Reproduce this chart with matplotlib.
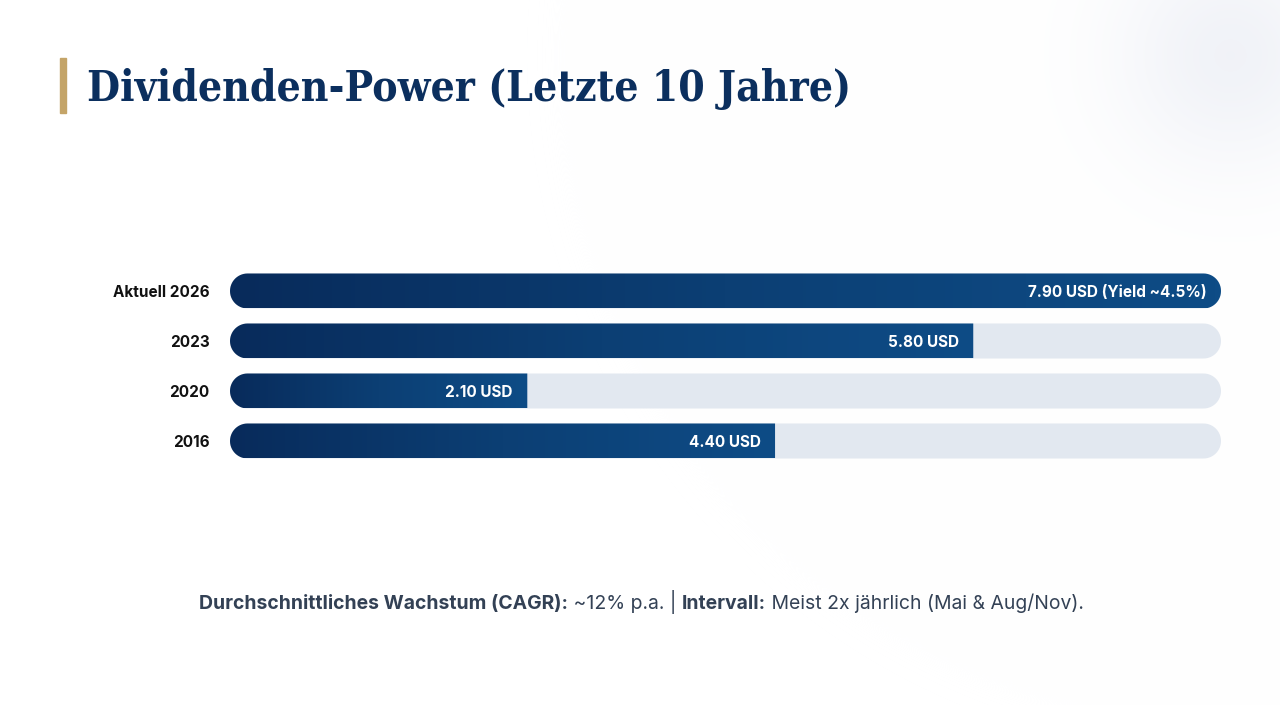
import numpy as np
import matplotlib
matplotlib.use("Agg")
import matplotlib.pyplot as plt
from matplotlib.path import Path
from matplotlib.patches import PathPatch
from matplotlib.colors import LinearSegmentedColormap

# ---------------- data ----------------
categories = ["Aktuell 2026", "2023", "2020", "2016"]
bar_pct = [100, 75, 30, 55]          # bar length, % of track
value_labels = ["7.90 USD (Yield ~4.5%)", "5.80 USD", "2.10 USD", "4.40 USD"]
title = "Dividenden-Power (Letzte 10 Jahre)"
footer_parts = [
    ("Durchschnittliches Wachstum (CAGR):", "bold"),
    (" ~12% p.a. | ", "normal"),
    ("Intervall:", "bold"),
    (" Meist 2x jährlich (Mai & Aug/Nov).", "normal"),
]

W, H, DPI = 1280, 705, 100
fig = plt.figure(figsize=(W / DPI, H / DPI), dpi=DPI)
fig.patch.set_facecolor("white")

# background radial glow (top right)
bg = fig.add_axes([0, 0, 1, 1])
bg.set_axis_off()
yy, xx = np.mgrid[0:H, 0:W]
d = np.hypot(xx - 1230, yy - 55)
glow = np.exp(-(d / 115.0) ** 2)
base = np.array([1.0, 1.0, 1.0])
tint = np.array([0.945, 0.952, 0.972])
img = base[None, None, :] * (1 - glow[..., None]) + tint[None, None, :] * glow[..., None]
bg.imshow(img, extent=[0, W, H, 0], aspect="auto", zorder=0)
bg.set_xlim(0, W)
bg.set_ylim(H, 0)

# gold accent + title
bg.add_patch(plt.Rectangle((60, 58), 6, 55, color="#c4a468", zorder=2))
renderer = fig.canvas.get_renderer()
tt = bg.text(87, 101, title, fontsize=34, fontweight="bold", family="DejaVu Serif",
             fontstretch="condensed", color="#0b2f5e", ha="left", va="baseline", zorder=3)
tw = tt.get_window_extent(renderer).width
tt.set_fontsize(34 * 763.0 / tw)

# ---------------- bars ----------------
L, R = 230, 1221
TOP, BOT = 266, 466
ax = fig.add_axes([L / W, 1 - BOT / H, (R - L) / W, (BOT - TOP) / H])
ax.set_xlim(0, 100)
ax.set_ylim(len(categories) - 0.5, -0.5)
ax.patch.set_alpha(0)
for s in ax.spines.values():
    s.set_visible(False)
ax.set_xticks([])
ax.set_yticks(range(len(categories)))
ax.set_yticklabels(categories, fontsize=11, fontweight="bold", family="Inter", color="#111111")
ax.tick_params(axis="y", length=0, pad=14.5)

px_x = (R - L) / 100.0           # pixels per x unit
bar_h = 0.70                     # in y units (50 px per unit)
r_px = bar_h * 50 / 2
rx = r_px / px_x
ry = bar_h / 2


def bar_path(x0, x1, yc, round_left=True, round_right=True):
    verts = []
    n = 30
    if round_right:
        th = np.linspace(-np.pi / 2, np.pi / 2, n)
        cx = x1 - rx
        verts += [(cx + rx * np.cos(t), yc + ry * np.sin(t)) for t in th]
    else:
        verts += [(x1, yc - ry), (x1, yc + ry)]
    if round_left:
        th = np.linspace(np.pi / 2, 3 * np.pi / 2, n)
        cx = x0 + rx
        verts += [(cx + rx * np.cos(t), yc + ry * np.sin(t)) for t in th]
    else:
        verts += [(x0, yc + ry), (x0, yc - ry)]
    verts.append(verts[0])
    codes = [Path.MOVETO] + [Path.LINETO] * (len(verts) - 2) + [Path.CLOSEPOLY]
    return Path(verts, codes)


cmap = LinearSegmentedColormap.from_list("navy", ["#082b5b", "#0c3f74", "#0e4c86"])
grad = np.linspace(0, 1, 256)[None, :]

for i, (pct, lab) in enumerate(zip(bar_pct, value_labels)):
    track = PathPatch(bar_path(0, 100, i), facecolor="#e2e8f0", edgecolor="none", zorder=1)
    ax.add_patch(track)
    full = pct >= 100
    clip = PathPatch(bar_path(0, pct, i, True, full), facecolor="none", edgecolor="none")
    ax.add_patch(clip)
    im = ax.imshow(grad, cmap=cmap, extent=[0, pct, i + ry, i - ry], aspect="auto",
                   zorder=2, interpolation="bilinear")
    im.set_clip_path(clip)
    ax.annotate(lab, xy=(pct, i), xytext=(-14.5, -2), textcoords="offset pixels",
                ha="right", va="center", fontsize=11, fontweight="bold",
                family="Inter", color="white", zorder=3)

ax.set_xlim(0, 100)
ax.set_ylim(len(categories) - 0.5, -0.5)

# ---------------- footer ----------------
texts = []
widths = []
for s, wgt in footer_parts:
    t = bg.text(0, 609, s, fontsize=13.95, fontweight=wgt, family="Inter",
                color="#334155", ha="left", va="baseline", zorder=3)
    bb = t.get_window_extent(renderer)
    texts.append(t)
    widths.append(bb.width)
total = sum(widths)
x = 641 - total / 2
for t, w in zip(texts, widths):
    t.set_x(x)
    x += w

fig.savefig("out.png", dpi=DPI, facecolor="white")
